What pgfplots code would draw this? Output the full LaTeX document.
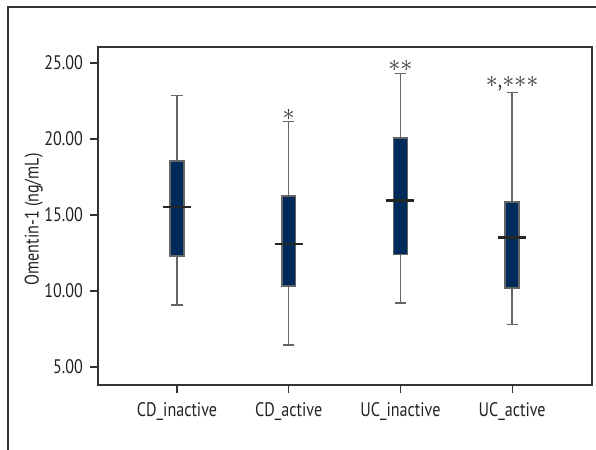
\documentclass[border=0pt]{standalone}
\usepackage{fontspec}
\setmainfont[FakeStretch=0.82]{PT Sans}
\usepackage{pgfplots}
\pgfplotsset{compat=1.18}
\usepgfplotslibrary{statistics}
\definecolor{boxnavy}{HTML}{002A5C}
\definecolor{whisk}{HTML}{666666}
\definecolor{axgray}{HTML}{333333}
\definecolor{txt}{HTML}{222222}
\newcommand{\st}{$\ast$}

\begin{document}
\begin{tikzpicture}
\useasboundingbox (-49pt,-32.5pt) rectangle (249pt,192.5pt);
\draw[axgray, line width=0.6pt] (-45pt,-40pt) -- (-45pt,189pt) -- (260pt,189pt);
\begin{axis}[
    scale only axis, width=247pt, height=169pt,
    xmin=-0.707, xmax=3.715, ymin=3.82, ymax=26.05,
    xtick={0,1,2,3},
    xticklabels={CD\_inactive, CD\_active, UC\_inactive, UC\_active},
    ytick={5,10,15,20,25},
    yticklabel style={/pgf/number format/.cd, fixed, fixed zerofill, precision=2},
    /pgf/number format/assume math mode=true,
    tick align=outside, major tick length=4pt,
    xtick pos=bottom, ytick pos=left,
    tick style={axgray, line width=0.6pt},
    axis line style={axgray, line width=0.6pt},
    ticklabel style={font=\fontsize{9.8}{11}\selectfont, text=txt},
    xticklabel style={yshift=-1pt},
    ylabel={Omentin-1 (ng/mL)},
    ylabel style={font=\fontsize{9.8}{11}\selectfont, text=txt, anchor=center,
        at={(axis description cs:-0.13,0.49)}},
    boxplot/draw direction=y,
    boxplot/box extend=0.125,
    boxplot/whisker extend=0.1,
    boxplot/draw/median/.code={
        \draw[black!85, line width=1.4pt]
            (boxplot box cs:\pgfplotsboxplotvalue{median},-0.5) --
            (boxplot box cs:\pgfplotsboxplotvalue{median},1.5);
    },
]
\addplot[draw=whisk, line width=0.8pt, fill=boxnavy,
    boxplot prepared={draw position=0, lower whisker=9.08, lower quartile=12.3,
        median=15.53, upper quartile=18.55, upper whisker=22.85}] coordinates {};
\addplot[draw=whisk, line width=0.8pt, fill=boxnavy,
    boxplot prepared={draw position=1, lower whisker=6.45, lower quartile=10.35,
        median=13.1, upper quartile=16.25, upper whisker=21.14}] coordinates {};
\addplot[draw=whisk, line width=0.8pt, fill=boxnavy,
    boxplot prepared={draw position=2, lower whisker=9.2, lower quartile=12.4,
        median=15.97, upper quartile=20.05, upper whisker=24.32}] coordinates {};
\addplot[draw=whisk, line width=0.8pt, fill=boxnavy,
    boxplot prepared={draw position=3, lower whisker=7.8, lower quartile=10.2,
        median=13.5, upper quartile=15.84, upper whisker=23.07}] coordinates {};
\node[anchor=south, inner sep=0.5pt, text=axgray, font=\fontsize{12}{12}\selectfont] at (axis cs:1,21.14) {\st};
\node[anchor=south, inner sep=0.5pt, text=axgray, font=\fontsize{12}{12}\selectfont] at (axis cs:2,24.32) {\st\st};
\node[anchor=south, inner sep=0.5pt, text=axgray, font=\fontsize{12}{12}\selectfont] at (axis cs:3,23.07) {\st,\st\st\st};
\end{axis}
\end{tikzpicture}
\end{document}
